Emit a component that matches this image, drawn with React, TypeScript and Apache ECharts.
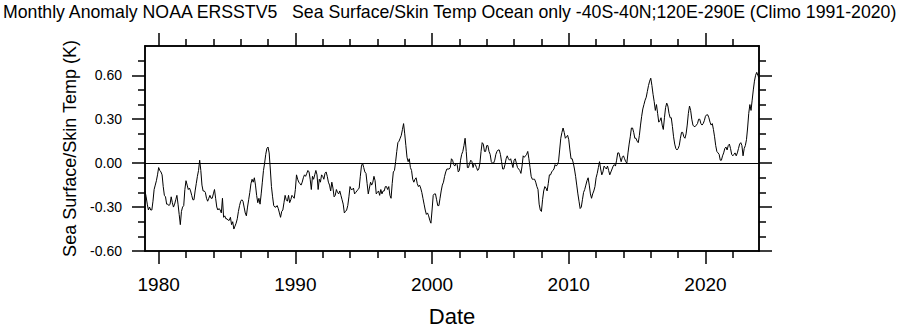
import React, { useEffect, useRef } from "react";
import * as echarts from "echarts";

// Monthly anomalies (K), Jan 1979 onward
const startYear = 1979;
const sst1979to1987 = [
  -0.19, -0.23, -0.28, -0.32, -0.30, -0.32, -0.32, -0.26, -0.18, -0.15, -0.12, -0.08,
  -0.03, -0.05, -0.06, -0.08, -0.16, -0.22, -0.23, -0.28, -0.28, -0.29, -0.28, -0.23,
  -0.27, -0.30, -0.28, -0.25, -0.22, -0.28, -0.35, -0.42, -0.33, -0.30, -0.29, -0.18,
  -0.12, -0.15, -0.18, -0.17, -0.19, -0.22, -0.25, -0.25, -0.19, -0.14, -0.09, -0.05,
  0.02, -0.05, -0.15, -0.19, -0.19, -0.20, -0.24, -0.26, -0.24, -0.22, -0.24, -0.24,
  -0.21, -0.18, -0.24, -0.30, -0.32, -0.31, -0.32, -0.34, -0.24, -0.37, -0.36, -0.38,
  -0.38, -0.39, -0.39, -0.37, -0.42, -0.40, -0.45, -0.43, -0.41, -0.38, -0.33, -0.29,
  -0.26, -0.25, -0.26, -0.30, -0.34, -0.36, -0.30, -0.25, -0.20, -0.14, -0.11, -0.13,
  -0.10, -0.15, -0.22, -0.27, -0.24, -0.28, -0.21, -0.13, -0.05, 0.00, 0.06, 0.10,
];
const sst1988to1996 = [
  0.11, 0.07, -0.04, -0.16, -0.23, -0.29, -0.30, -0.30, -0.29, -0.31, -0.34, -0.37,
  -0.33, -0.32, -0.27, -0.22, -0.25, -0.26, -0.22, -0.27, -0.25, -0.22, -0.23, -0.24,
  -0.18, -0.08, -0.11, -0.13, -0.14, -0.15, -0.13, -0.10, -0.08, -0.09, -0.07, -0.05,
  -0.06, -0.11, -0.18, -0.09, -0.11, -0.08, -0.05, -0.08, -0.18, -0.11, -0.13, -0.08,
  -0.09, -0.11, -0.07, -0.06, -0.09, -0.13, -0.15, -0.19, -0.13, -0.17, -0.23, -0.22,
  -0.18, -0.20, -0.21, -0.19, -0.22, -0.25, -0.28, -0.34, -0.33, -0.32, -0.29, -0.23,
  -0.16, -0.18, -0.18, -0.17, -0.21, -0.20, -0.19, -0.18, -0.17, -0.09, -0.02, 0.00,
  -0.03, -0.06, -0.07, -0.14, -0.21, -0.17, -0.13, -0.15, -0.13, -0.09, -0.12, -0.21,
  -0.20, -0.19, -0.22, -0.18, -0.21, -0.19, -0.19, -0.16, -0.16, -0.18, -0.16, -0.22,
];
const sst1997to2005 = [
  -0.24, -0.14, -0.06, -0.05, 0.01, 0.08, 0.14, 0.15, 0.17, 0.19, 0.23, 0.27,
  0.20, 0.12, 0.04, 0.01, 0.03, -0.03, -0.05, -0.11, -0.13, -0.11, -0.10, -0.14,
  -0.16, -0.15, -0.17, -0.20, -0.24, -0.28, -0.32, -0.35, -0.34, -0.36, -0.39, -0.41,
  -0.32, -0.22, -0.21, -0.21, -0.25, -0.29, -0.29, -0.24, -0.19, -0.15, -0.13, -0.09,
  -0.06, -0.04, -0.04, -0.04, -0.03, 0.03, 0.02, -0.01, -0.02, 0.00, -0.01, -0.06,
  -0.05, 0.02, 0.06, 0.08, 0.12, 0.17, 0.08, -0.03, -0.03, 0.00, 0.02, 0.01,
  -0.03, 0.00, -0.01, -0.03, -0.05, -0.04, 0.00, 0.08, 0.14, 0.13, 0.08, 0.08,
  0.12, 0.12, 0.08, 0.06, 0.01, 0.00, 0.00, 0.02, 0.06, 0.08, 0.09, 0.09,
  0.06, 0.01, -0.04, -0.04, -0.01, 0.03, 0.05, 0.03, 0.02, 0.03, 0.00, -0.03,
];
const sst2006to2014 = [
  0.02, 0.03, 0.00, -0.03, -0.04, -0.05, -0.07, -0.02, 0.05, 0.04, 0.05, 0.06,
  0.08, 0.03, -0.03, -0.09, -0.11, -0.11, -0.11, -0.13, -0.16, -0.18, -0.28, -0.32,
  -0.33, -0.25, -0.19, -0.16, -0.17, -0.19, -0.14, -0.08, -0.08, -0.06, -0.05, -0.04,
  -0.01, -0.02, -0.01, 0.01, 0.09, 0.17, 0.21, 0.24, 0.21, 0.17, 0.18, 0.19,
  0.16, 0.09, 0.03, 0.03, 0.00, -0.04, -0.09, -0.15, -0.21, -0.26, -0.31, -0.30,
  -0.25, -0.20, -0.18, -0.15, -0.12, -0.10, -0.15, -0.21, -0.24, -0.21, -0.19, -0.16,
  -0.10, -0.07, -0.03, 0.01, -0.04, -0.08, -0.06, -0.02, -0.03, -0.04, -0.02, -0.05,
  -0.08, -0.06, -0.04, -0.02, -0.01, -0.02, 0.02, 0.07, 0.07, 0.04, 0.01, 0.04,
  0.05, 0.03, 0.01, 0.00, 0.07, 0.13, 0.18, 0.24, 0.24, 0.21, 0.17, 0.17,
];
const sst2015to2023 = [
  0.15, 0.14, 0.19, 0.26, 0.32, 0.37, 0.40, 0.43, 0.45, 0.49, 0.53, 0.56,
  0.58, 0.53, 0.47, 0.42, 0.36, 0.40, 0.34, 0.28, 0.29, 0.31, 0.26, 0.23,
  0.31, 0.38, 0.41, 0.39, 0.34, 0.31, 0.31, 0.25, 0.18, 0.13, 0.10, 0.09,
  0.10, 0.12, 0.17, 0.21, 0.21, 0.18, 0.17, 0.20, 0.26, 0.34, 0.39, 0.36,
  0.30, 0.26, 0.25, 0.25, 0.26, 0.27, 0.30, 0.30, 0.27, 0.26, 0.27, 0.29,
  0.32, 0.33, 0.33, 0.31, 0.28, 0.26, 0.27, 0.23, 0.18, 0.12, 0.08, 0.07,
  0.06, 0.02, 0.02, 0.05, 0.07, 0.10, 0.11, 0.09, 0.12, 0.13, 0.10, 0.06,
  0.05, 0.06, 0.07, 0.05, 0.07, 0.10, 0.13, 0.14, 0.12, 0.05, 0.10, 0.12,
  0.16, 0.24, 0.34, 0.40, 0.36, 0.43, 0.50, 0.56, 0.60, 0.62, 0.60, 0.58,
];

const majorYears = [1980, 1990, 2000, 2010, 2020];
const minorYears = [1982, 1984, 1986, 1988, 1992, 1994, 1996, 1998, 2002, 2004, 2006, 2008, 2012, 2014, 2016, 2018, 2022];
const yMajorTicks = [-0.6, -0.3, 0, 0.3, 0.6];
const yMinorTicks = [-0.5, -0.4, -0.2, -0.1, 0.1, 0.2, 0.4, 0.5, 0.7];
const yMin = -0.6;
const yMax = 0.8;

const titleText =
  "Monthly Anomaly NOAA ERSSTV5   Sea Surface/Skin Temp Ocean only -40S-40N;120E-290E (Climo 1991-2020)";
const yTitle = "Sea Surface/Skin Temp (K)";
const xTitle = "Date";

const FONT = "'Liberation Sans', Arial, Helvetica, sans-serif";

export default function App() {
  const ref = useRef<HTMLDivElement>(null);

  useEffect(() => {
    document.body.style.margin = "0";
    if (!ref.current) return;
    const chart = echarts.init(ref.current, undefined, { renderer: "svg" });

    const allValues = [
      ...sst1979to1987,
      ...sst1988to1996,
      ...sst1997to2005,
      ...sst2006to2014,
      ...sst2015to2023,
    ];
    const points = allValues.map((v, i) => [startYear + i / 12, v]);
    const xMin = startYear;
    const xMax = startYear + (allValues.length - 1) / 12;

    const lineStyle = { color: "#000", width: 1.5 };
    const xBase = {
      type: "value",
      min: xMin,
      max: xMax,
      splitLine: { show: false },
      axisLine: { show: true, onZero: false, lineStyle },
    };
    const yBase = {
      type: "value",
      min: yMin,
      max: yMax,
      splitLine: { show: false },
      axisLine: { show: true, onZero: false, lineStyle },
    };
    const tick = (vals: number[], len: number) => ({
      show: true,
      inside: false,
      length: len,
      customValues: vals,
      lineStyle,
    });

    chart.setOption({
      animation: false,
      backgroundColor: "#fff",
      title: {
        text: titleText,
        left: 3,
        top: 3,
        padding: 0,
        textStyle: { fontSize: 17.7, fontWeight: "normal", color: "#000", fontFamily: FONT },
      },
      grid: {
        left: 145,
        right: 145,
        top: 46,
        bottom: 77,
        containLabel: false,
        outerBoundsMode: "none",
      },
      xAxis: [
        {
          ...xBase,
          position: "bottom",
          axisTick: tick(majorYears, 13),
          axisLabel: {
            show: true,
            customValues: majorYears,
            formatter: (v: number) => String(Math.round(v)),
            fontSize: 19,
            color: "#000",
            fontFamily: FONT,
            margin: 24,
          },
          name: xTitle,
          nameLocation: "middle",
          nameGap: 54,
          nameTextStyle: { fontSize: 22, color: "#000", fontFamily: FONT },
        },
        { ...xBase, position: "bottom", axisTick: tick(minorYears, 7), axisLabel: { show: false } },
        { ...xBase, position: "top", axisTick: tick(majorYears, 13), axisLabel: { show: false } },
        { ...xBase, position: "top", axisTick: tick(minorYears, 7), axisLabel: { show: false } },
      ],
      yAxis: [
        {
          ...yBase,
          position: "left",
          axisTick: tick(yMajorTicks, 13),
          axisLabel: {
            show: true,
            customValues: yMajorTicks,
            formatter: (v: number) => v.toFixed(2),
            fontSize: 14,
            color: "#000",
            fontFamily: FONT,
            margin: 23,
          },
          name: yTitle,
          nameLocation: "middle",
          nameGap: 63,
          nameTextStyle: { fontSize: 18, color: "#000", fontFamily: FONT },
        },
        { ...yBase, position: "left", axisTick: tick(yMinorTicks, 7), axisLabel: { show: false } },
        { ...yBase, position: "right", axisTick: tick(yMajorTicks, 13), axisLabel: { show: false } },
        { ...yBase, position: "right", axisTick: tick(yMinorTicks, 7), axisLabel: { show: false } },
      ],
      series: [
        {
          type: "line",
          xAxisIndex: 0,
          yAxisIndex: 0,
          data: points,
          symbol: "none",
          showSymbol: false,
          lineStyle: { color: "#000", width: 1 },
          markLine: {
            silent: true,
            symbol: "none",
            label: { show: false },
            lineStyle: { color: "#000", width: 1.2, type: "solid" },
            data: [{ yAxis: 0 }],
          },
        },
      ],
    });

    return () => chart.dispose();
  }, []);

  return <div ref={ref} style={{ width: 904, height: 328 }} />;
}
